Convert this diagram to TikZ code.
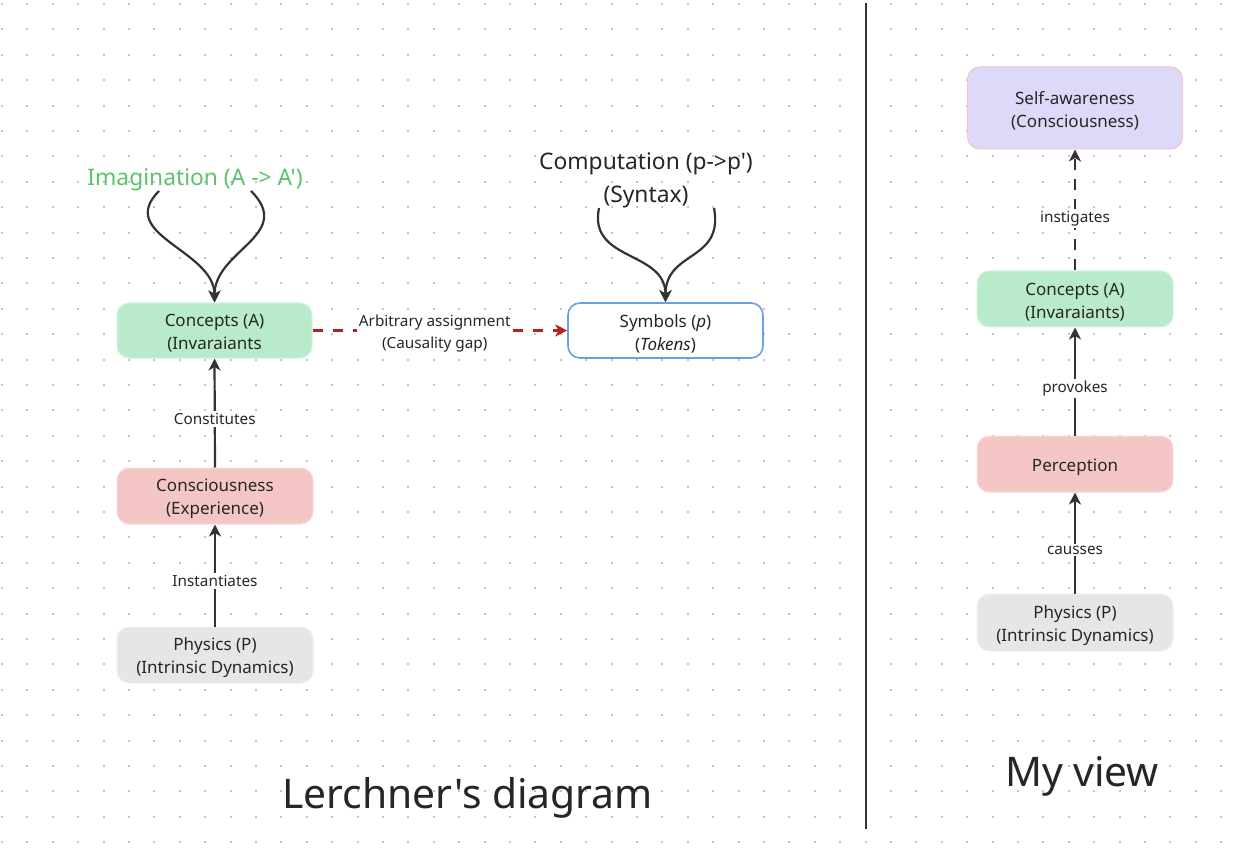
\documentclass[tikz,border=0pt]{standalone}
\usepackage{fontspec}
\setmainfont{Noto Sans}[Ligatures=TeXOff]
\usetikzlibrary{arrows.meta}
\definecolor{textc}{HTML}{262626}
\definecolor{darkc}{HTML}{333333}
\definecolor{dotc}{HTML}{C4C4C4}
\definecolor{cgreen}{HTML}{B9EBCA}
\definecolor{cpink}{HTML}{F5C6C6}
\definecolor{cgray}{HTML}{E6E6E6}
\definecolor{clav}{HTML}{DDD9F8}
\definecolor{cblue}{HTML}{6D9EEB}
\definecolor{cred}{HTML}{B22222}
\definecolor{cimag}{HTML}{5DC26D}
\newcommand{\bt}[1]{\raisebox{-3pt}[\height][\depth]{#1}}
\tikzset{
  box/.style={rounded corners=12pt, align=center, text=textc, inner sep=0pt,
    font=\fontsize{17}{23}\selectfont, line width=1pt},
  lbl/.style={fill=white, inner sep=2pt, text=textc, align=center,
    font=\fontsize{15.3}{22}\selectfont},
  arr/.style={draw=darkc, line width=2.2pt, -{Stealth[length=12pt,width=12pt,inset=3.5pt]}},
  dasharr/.style={arr, dash pattern=on 11pt off 9pt},
  redarr/.style={draw=cred, line width=2.2pt, dash pattern=on 10pt off 10pt,
    -{Stealth[length=12pt,width=12pt,inset=3.5pt]}},
  bigtxt/.style={inner sep=0pt, align=center, font=\fontsize{22.8}{33}\selectfont},
  title/.style={inner sep=0pt, text=textc, font=\fontsize{40.8}{46}\selectfont}
}
\begin{document}
\begin{tikzpicture}[x=1pt,y=-1pt]
\useasboundingbox (0,0) rectangle (1236,858);
\fill[white] (0,0) rectangle (1236,858);
\foreach \i in {0,...,48}{
  \foreach \j in {0,...,33}{
    \fill[dotc] ({25.4*\i+1},{25.4*\j+3}) rectangle ({25.4*\i+3},{25.4*\j+5});
  }
}
% separator
\coordinate (s1) at (866,3);
\coordinate (s2) at (866,829);
\draw[darkc, line width=1.5pt] (s1) -- (s2);

% left column
\node[box, fill=cgreen, draw=cgreen!60!white, minimum width=195pt, minimum height=55pt] (conA) at (214.5,330.5) {\bt{Concepts (A)}\\\bt{(Invaraiants}};
\node[box, fill=cpink, draw=cpink!60!white, minimum width=196pt, minimum height=56pt] (consc) at (215,496) {\bt{Consciousness}\\\bt{(Experience)}};
\node[box, fill=cgray, draw=cgray!60!white, minimum width=196pt, minimum height=56pt] (phys) at (215,655) {\bt{Physics (P)}\\\bt{(Intrinsic Dynamics)}};
\node[box, fill=white, draw=cblue, line width=1.6pt, minimum width=195pt, minimum height=55pt] (sym) at (665.5,330.5) {\bt{Symbols (\textit{p})}\\\bt{(\textit{Tokens})}};

\node[bigtxt, text=cimag, yshift=-3pt] (imag) at (195,177) {Imagination (A -> A')};
\node[bigtxt, text=textc, yshift=-3pt] (comp) at (646,177.5) {Computation (p->p')\\(Syntax)};

\coordinate (i1) at (159,191);
\coordinate (i2) at (251,191);
\coordinate (c1) at (599,208);
\coordinate (c2) at (714,208);
\draw[arr] (i1) .. controls (115,235) and (214.5,250) .. (conA.north);
\draw[arr] (i2) .. controls (295,235) and (214.5,250) .. (conA.north);
\draw[arr] (c1) .. controls (588,262) and (665.5,250) .. (sym.north);
\draw[arr] (c2) .. controls (724,262) and (665.5,250) .. (sym.north);

\draw[arr] (consc.north) -- node[lbl, pos=0.455, yshift=-1pt] {Constitutes} (conA.south);
\draw[arr] (phys.north) -- node[lbl, pos=0.456, yshift=-1pt] {Instantiates} (consc.south);
\draw[redarr] (conA.east) -- node[lbl, pos=0.48, yshift=-3pt] {Arbitrary assignment\\(Causality gap)} (sym.west);

% right column
\node[box, fill=clav, draw=cpink, minimum width=215pt, minimum height=82pt] (self) at (1075,108) {\bt{Self-awareness}\\\bt{(Consciousness)}};
\node[box, fill=cgreen, draw=cgreen!60!white, minimum width=196pt, minimum height=56pt] (conB) at (1075,299) {\bt{Concepts (A)}\\\bt{(Invaraiants)}};
\node[box, fill=cpink, draw=cpink!60!white, minimum width=196pt, minimum height=56pt] (perc) at (1075,464) {\bt{Perception}};
\node[box, fill=cgray, draw=cgray!60!white, minimum width=196pt, minimum height=57pt] (physB) at (1075,622.5) {\bt{Physics (P)}\\\bt{(Intrinsic Dynamics)}};

\draw[dasharr] (conB.north) -- node[lbl, pos=0.45, yshift=-2.5pt] {instigates} (self.south);
\draw[arr] (perc.north) -- node[lbl, pos=0.46, yshift=-2.5pt] {provokes} (conB.south);
\draw[arr] (physB.north) -- node[lbl, pos=0.45, yshift=-2pt] {causses} (perc.south);

% titles
\node[title, yshift=-4pt] (t1) at (467.5,794) {Lerchner's diagram};
\node[title, yshift=-4pt] (t2) at (1082,772) {My view};
\end{tikzpicture}
\end{document}
